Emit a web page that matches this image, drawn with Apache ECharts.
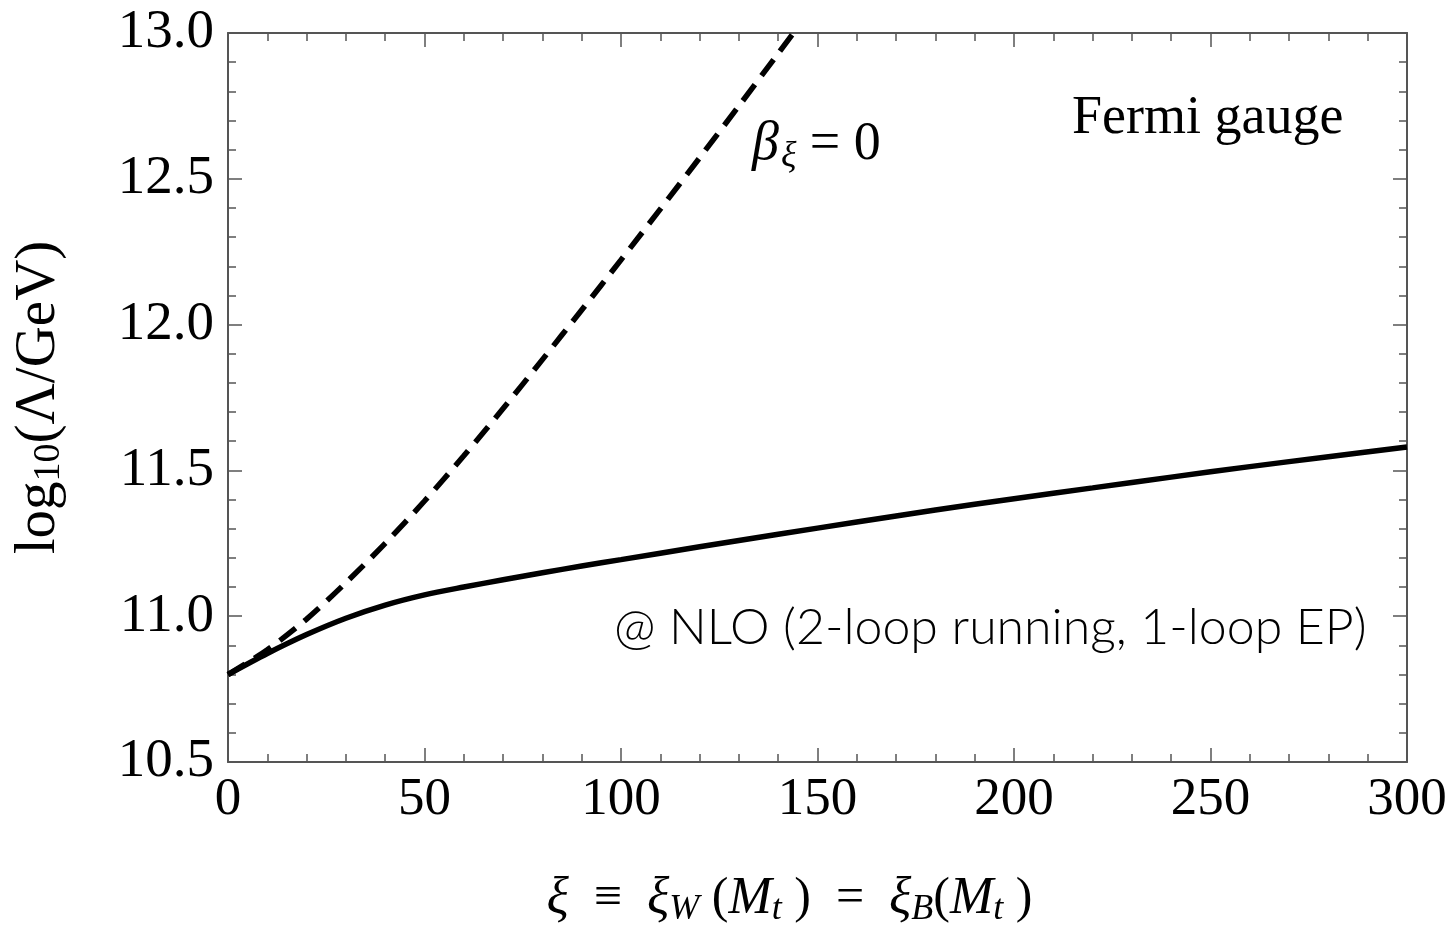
<!DOCTYPE html>
<html>
<head>
<meta charset="utf-8">
<script src="https://cdn.jsdelivr.net/npm/echarts@6/dist/echarts.min.js"></script>
<style>
  html, body { margin: 0; padding: 0; background: #fff; }
  #chart { width: 1453px; height: 926px; }
</style>
</head>
<body>
<div id="chart"></div>
<script>
// xi values and log10(Lambda/GeV)
var nloXi = [0, 10, 20, 30, 40, 50, 60, 70, 80, 90, 100, 120, 140, 160, 180, 200, 220, 240, 260, 280, 300];
var nloLog = [10.80, 10.872, 10.937, 10.993, 11.038, 11.073, 11.10, 11.125, 11.149, 11.172, 11.194, 11.238, 11.281, 11.323, 11.364, 11.403, 11.44, 11.477, 11.513, 11.547, 11.58];

var betaXi = [0, 10, 20, 30, 40, 50, 60, 70, 80, 90, 100, 110, 120, 130, 140, 150];
var betaLog = [10.80, 10.885, 10.99, 11.115, 11.25, 11.395, 11.55, 11.712, 11.88, 12.05, 12.222, 12.396, 12.572, 12.75, 12.93, 13.11];

var xTicks = [0, 50, 100, 150, 200, 250, 300];
var yTicks = [10.5, 11.0, 11.5, 12.0, 12.5, 13.0];

function pairs(xs, ys) {
    var out = [];
    for (var i = 0; i < xs.length; i++) {
        out.push([xs[i], ys[i]]);
    }
    return out;
}

var serif = '"Liberation Serif", "DejaVu Serif", serif';
var frameColor = '#555';

var tickStyle = { inside: true, length: 14, lineStyle: { color: frameColor, width: 1.5 } };
var minorStyle = { show: true, splitNumber: 5, length: 8, lineStyle: { color: frameColor, width: 1.5 } };

var myChart = echarts.init(document.getElementById('chart'));

var option = {
    backgroundColor: '#ffffff',
    animation: false,
    grid: { left: 228, right: 46, top: 33, bottom: 164, outerBoundsMode: 'none', containLabel: false },
    xAxis: [
        {
            type: 'value',
            min: xTicks[0],
            max: xTicks[xTicks.length - 1],
            interval: 50,
            axisLine: { onZero: false, lineStyle: { color: frameColor, width: 2 } },
            axisTick: tickStyle,
            minorTick: minorStyle,
            splitLine: { show: false },
            axisLabel: { fontFamily: serif, fontSize: 53, color: '#000', margin: 12 },
            name: '{i|ξ}  ≡  {i|ξ}{s|W} ({i|M}{s|t} )  =  {i|ξ}{s|B}({i|M}{s|t} )',
            nameLocation: 'middle',
            nameGap: 108,
            nameTextStyle: {
                fontFamily: serif, fontSize: 50, color: '#000',
                padding: [0, 56, 0, 0],
                rich: {
                    i: { fontFamily: serif, fontSize: 52, fontStyle: 'italic' },
                    s: { fontFamily: serif, fontSize: 36, fontStyle: 'italic', verticalAlign: 'bottom', padding: [22, 0, 0, 0] }
                }
            }
        },
        {
            type: 'value',
            position: 'top',
            min: xTicks[0],
            max: xTicks[xTicks.length - 1],
            interval: 50,
            axisLine: { onZero: false, lineStyle: { color: frameColor, width: 2 } },
            axisTick: tickStyle,
            minorTick: minorStyle,
            splitLine: { show: false },
            axisLabel: { show: false }
        }
    ],
    yAxis: [
        {
            type: 'value',
            min: yTicks[0],
            max: yTicks[yTicks.length - 1],
            interval: 0.5,
            axisLine: { onZero: false, lineStyle: { color: frameColor, width: 2 } },
            axisTick: tickStyle,
            minorTick: minorStyle,
            splitLine: { show: false },
            axisLabel: {
                fontFamily: serif, fontSize: 55, color: '#000', margin: 14,
                formatter: function (v) { return v.toFixed(1); }
            },
            name: '{a|log}{s|10}{a|(Λ/GeV)}',
            nameLocation: 'middle',
            nameRotate: 90,
            nameGap: 160,
            nameTextStyle: {
                rich: {
                    a: { fontFamily: serif, fontSize: 57, color: '#000' },
                    s: { fontFamily: serif, fontSize: 38, color: '#000', verticalAlign: 'bottom', padding: [20, 0, 0, 0] }
                }
            }
        },
        {
            type: 'value',
            position: 'right',
            min: yTicks[0],
            max: yTicks[yTicks.length - 1],
            interval: 0.5,
            axisLine: { onZero: false, lineStyle: { color: frameColor, width: 2 } },
            axisTick: tickStyle,
            minorTick: minorStyle,
            splitLine: { show: false },
            axisLabel: { show: false }
        }
    ],
    graphic: [
        {
            type: 'text', left: 1072, top: 92,
            style: { text: 'Fermi gauge', font: '54px ' + serif, fill: '#000' }
        },
        {
            type: 'text', left: 752, top: 118,
            style: {
                text: '{b|β}{s|ξ}{n| = 0}',
                rich: {
                    b: { fontFamily: serif, fontSize: 54, fontStyle: 'italic', fill: '#000' },
                    s: { fontFamily: serif, fontSize: 36, fontStyle: 'italic', fill: '#000', padding: [24, 0, 0, 2] },
                    n: { fontFamily: serif, fontSize: 54, fill: '#000' }
                }
            }
        },
        {
            type: 'text', left: 614, top: 603,
            style: { text: '@ NLO (2-loop running, 1-loop EP)', font: '300 50px Lato, "Open Sans", sans-serif', fill: '#000' }
        }
    ],
    series: [
        {
            name: 'NLO',
            type: 'line',
            data: pairs(nloXi, nloLog),
            smooth: 0.3,
            showSymbol: false,
            clip: true,
            lineStyle: { color: '#000', width: 5.5 }
        },
        {
            name: 'beta_xi = 0',
            type: 'line',
            data: pairs(betaXi, betaLog),
            smooth: 0.3,
            showSymbol: false,
            clip: true,
            lineStyle: { color: '#000', width: 5.5, type: [20, 11] }
        }
    ]
};

myChart.setOption(option);
</script>
</body>
</html>
